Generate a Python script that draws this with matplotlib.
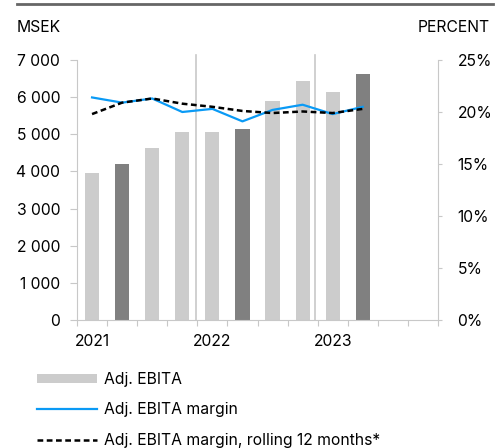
import matplotlib.pyplot as plt
from matplotlib.lines import Line2D

plt.rcParams['font.family'] = ['Inter', 'DejaVu Sans']

# quarters 2021 Q1 .. 2023 Q2
ebita = [3950, 4200, 4630, 5060, 5060, 5140, 5900, 6430, 6140, 6620]
margin = [21.4, 20.9, 21.3, 20.0, 20.3, 19.1, 20.2, 20.7, 19.8, 20.5]
rolling = [19.8, 20.9, 21.3, 20.8, 20.5, 20.1, 19.9, 20.05, 19.9, 20.3]
dark_q = [1, 5, 9]  # Q2 bars in dark grey
years = ['2021', '2022', '2023']

grey_ax = '#c8c8c8'
fs = 11.3

fig = plt.figure(figsize=(5.03, 4.48), dpi=100)
ax = fig.add_axes([77/503, 128/448, 361/503, 260/448])
ax2 = ax.twinx()

x = list(range(len(ebita)))
cols = ['#808080' if i in dark_q else '#cccccc' for i in x]
bars = ax.bar(x, ebita, width=0.47, color=cols, zorder=2)

# year separators
for xv in [3.46, 7.41]:
    ax.plot([xv, xv], [0, 7130], color='#c8c8c8', lw=1.2, clip_on=False, zorder=1)

ax.set_xlim(-0.5, 11.5)
ax.set_ylim(0, 7000)
ax.set_yticks(range(0, 7001, 1000))
ax.set_yticklabels([f'{v:,}'.replace(',', ' ') for v in range(0, 7001, 1000)])
ax.set_xticks([i - 0.5 for i in range(13)], minor=False)
ax.set_xticklabels([])
ax.set_xticks([0, 4, 8], minor=True)
ax.set_xticklabels(years, minor=True)
ax.tick_params(axis='x', which='minor', length=0, pad=10, labelsize=fs)
ax.tick_params(axis='x', which='major', length=4, color=grey_ax)
ax.tick_params(axis='y', length=5, color=grey_ax, labelsize=fs, pad=7)

l1, = ax2.plot(x, margin, color='#0a9af5', lw=1.6, zorder=3)
l2, = ax2.plot(x, rolling, color='black', lw=1.8, dashes=(2.3, 1.4), zorder=3)
ax2.set_ylim(0, 25)
ax2.set_yticks(range(0, 26, 5))
ax2.set_yticklabels([f'{v}%' for v in range(0, 26, 5)])
ax2.tick_params(axis='y', length=3, color=grey_ax, labelsize=fs, pad=11)

for a in (ax, ax2):
    for s in a.spines.values():
        s.set_visible(False)
ax.spines['left'].set_visible(True)
ax.spines['left'].set_color(grey_ax)
ax.spines['bottom'].set_visible(True)
ax.spines['bottom'].set_color(grey_ax)
ax2.spines['right'].set_visible(True)
ax2.spines['right'].set_color(grey_ax)

fig.text(17/503, 1 - 28/448, 'MSEK', fontsize=fs, va='center', ha='left')
fig.text(490/503, 1 - 28/448, 'PERCENT', fontsize=fs, va='center', ha='right')
fig.add_artist(Line2D([17/503, 493/503], [1 - 4/448, 1 - 4/448], color='#666666', lw=2))

fig.legend([bars, l1, l2],
           ['Adj. EBITA', 'Adj. EBITA margin', 'Adj. EBITA margin, rolling 12 months*'],
           loc='upper left', bbox_to_anchor=(37/503, 1 - 372/448), frameon=False,
           fontsize=fs, handlelength=3.8, handleheight=0.45, handletextpad=0.5,
           labelspacing=0.98, borderpad=0, borderaxespad=0)

fig.savefig('out.png', dpi=100)
